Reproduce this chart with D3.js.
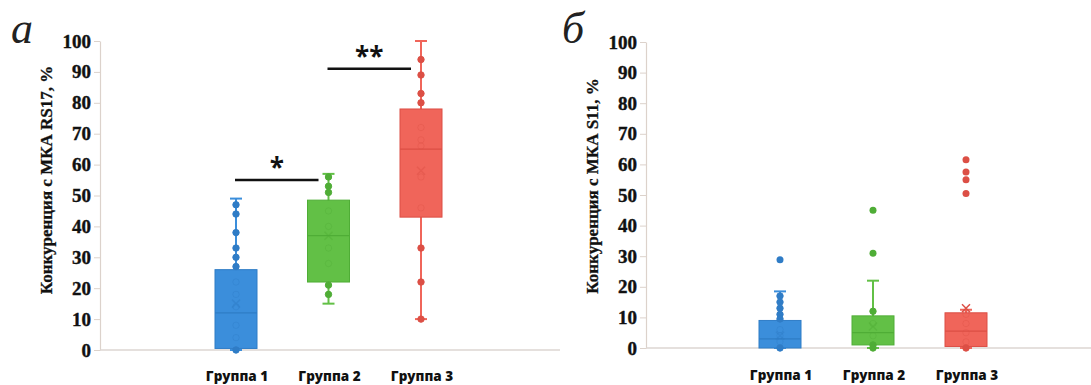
<!DOCTYPE html>
<html>
<head>
<meta charset="utf-8">
<script src="https://cdn.jsdelivr.net/npm/d3@7"></script>
<style>
  body { margin: 0; background: #fff; }
  svg { display: block; }
</style>
</head>
<body>
<script>
// группы и шкала
const groups = ["Группа 1", "Группа 2", "Группа 3"];
const yTicks = [0, 10, 20, 30, 40, 50, 60, 70, 80, 90, 100];

// [нижний ус, Q1, медиана, Q3, верхний ус, среднее]
const rs17Box = [
  [0, 0.5, 12, 26, 49, 15],
  [15, 22, 37, 48.5, 57, 37],
  [10, 43, 65, 78, 100, 58]
];
const rs17Points = [
  [47, 44, 38, 33, 30, 27, 22, 18, 14, 8, 4, 0],
  [56, 53, 51, 45, 40, 33, 28, 21, 18],
  [94, 89, 83, 80, 72, 68, 66, 56, 46, 33, 22, 10]
];
const rs17Outliers = [[], [], []];

const s11Box = [
  [0, 0, 3, 9, 18.5, 4],
  [0, 1, 5, 10.5, 22, 7],
  [0, 0.5, 5.5, 11.5, 12.5, 13]
];
const s11Points = [
  [17, 15, 13, 11, 9.5, 6, 4, 2, 0],
  [12, 8, 4, 1, 0],
  [11, 8, 5, 2, 0]
];
const s11Outliers = [[28.8], [45, 31], [61.5, 57.5, 55, 50.5]];

const colors = ["#3b8edb", "#62c046", "#f0655a"];
const darker = ["#2f7cc6", "#4fad36", "#dc4f45"];

const svg = d3.select("body").append("svg")
  .attr("width", 1091)
  .attr("height", 385);

const drawPanel = (p) => {
  const y = d3.scaleLinear().domain([0, 100]).range([p.yBottom, p.yTop]);
  const x = d3.scalePoint().domain(groups).range(p.centers);

  const g = svg.append("g");

  // ось Y
  const leftAxis = d3.axisLeft(y)
    .tickValues(yTicks)
    .tickSize(6)
    .tickSizeOuter(0)
    .tickPadding(3);

  const ax = g.append("g")
    .attr("transform", `translate(${p.axisX},0)`)
    .call(leftAxis);
  ax.select(".domain").attr("stroke", "#dcd2cb").attr("stroke-width", 1.2);
  ax.selectAll(".tick line").attr("stroke", "#dcd2cb");
  ax.selectAll(".tick text")
    .attr("font-family", "'Liberation Serif', 'Times New Roman', serif")
    .attr("font-weight", "bold")
    .attr("font-size", 19)
    .attr("fill", "#111")
    .attr("stroke", "#111")
    .attr("stroke-width", 0.4);

  // базовая линия
  g.append("line")
    .attr("x1", p.axisX).attr("x2", p.xEnd)
    .attr("y1", y(0)).attr("y2", y(0))
    .attr("stroke", "#dcd6d2").attr("stroke-width", 1.5);

  // подпись оси
  g.append("text")
    .attr("transform", `translate(${p.titleX},${p.titleY}) rotate(-90)`)
    .attr("text-anchor", "middle")
    .attr("font-family", "'Liberation Serif', 'Times New Roman', serif")
    .attr("font-weight", "bold")
    .attr("font-size", 17)
    .attr("fill", "#111")
    .attr("stroke", "#111")
    .attr("stroke-width", 0.3)
    .text(p.title);

  // буква панели
  g.append("text")
    .attr("x", p.letterX).attr("y", p.letterY)
    .attr("font-family", "'Liberation Serif', 'Times New Roman', serif")
    .attr("font-style", "italic")
    .attr("font-size", 44)
    .attr("fill", "#222")
    .text(p.letter);

  // подписи групп
  g.selectAll(".cat")
    .data(groups)
    .join("text")
    .attr("class", "cat")
    .attr("x", d => x(d) + 1)
    .attr("y", p.catY)
    .attr("text-anchor", "middle")
    .attr("font-family", "'Open Sans', sans-serif")
    .attr("font-weight", 800)
    .attr("font-size", 13.5)
    .attr("fill", "#111")
    .text(d => d);

  const boxW = 42, capW = 12;

  groups.forEach((grp, i) => {
    const [lo, q1, med, q3, hi, mean] = p.box[i];
    const cx = x(grp);
    const bg = g.append("g");

    // усы
    bg.append("line")
      .attr("x1", cx).attr("x2", cx)
      .attr("y1", y(lo)).attr("y2", y(hi))
      .attr("stroke", colors[i]).attr("stroke-width", 2);
    [lo, hi].forEach(v => {
      bg.append("line")
        .attr("x1", cx - capW / 2).attr("x2", cx + capW / 2)
        .attr("y1", y(v)).attr("y2", y(v))
        .attr("stroke", colors[i]).attr("stroke-width", 2);
    });

    // ящик
    bg.append("rect")
      .attr("x", cx - boxW / 2)
      .attr("y", y(q3))
      .attr("width", boxW)
      .attr("height", y(q1) - y(q3))
      .attr("fill", colors[i])
      .attr("stroke", darker[i])
      .attr("stroke-width", 1);

    bg.append("line")
      .attr("x1", cx - boxW / 2).attr("x2", cx + boxW / 2)
      .attr("y1", y(med)).attr("y2", y(med))
      .attr("stroke", darker[i]).attr("stroke-width", 1.2);

    // точки
    bg.selectAll("circle.pt")
      .data(p.points[i])
      .join("circle")
      .attr("class", "pt")
      .attr("cx", cx)
      .attr("cy", d => y(d))
      .attr("r", 3.2)
      .attr("fill", d => (d > q1 && d < q3) ? "none" : darker[i])
      .attr("stroke", darker[i])
      .attr("stroke-opacity", d => (d > q1 && d < q3) ? 0.35 : 1)
      .attr("stroke-width", 1);

    bg.selectAll("circle.out")
      .data(p.outliers[i])
      .join("circle")
      .attr("class", "out")
      .attr("cx", cx)
      .attr("cy", d => y(d))
      .attr("r", 3.5)
      .attr("fill", darker[i]);

    // среднее
    const m = y(mean), s = 4;
    bg.append("path")
      .attr("d", `M${cx - s},${m - s}L${cx + s},${m + s}M${cx - s},${m + s}L${cx + s},${m - s}`)
      .attr("stroke", darker[i])
      .attr("stroke-opacity", mean > q3 ? 1 : 0.45)
      .attr("stroke-width", 1.5);
  });

  // значимость
  p.sig.forEach(s => {
    const x1 = x(groups[s.from]) - 1, x2 = x(groups[s.to]) - 10;
    g.append("line")
      .attr("x1", x1).attr("x2", x2)
      .attr("y1", y(s.level)).attr("y2", y(s.level))
      .attr("stroke", "#111").attr("stroke-width", 2.5);
    g.append("text")
      .attr("x", (x1 + x2) / 2)
      .attr("y", y(s.level) - 3)
      .attr("text-anchor", "middle")
      .attr("font-family", "'Open Sans', sans-serif")
      .attr("font-weight", "bold")
      .attr("font-size", 26)
      .attr("fill", "#111")
      .text(s.mark);
  });
};

drawPanel({
  axisX: 100, xEnd: 560, yTop: 41, yBottom: 350,
  centers: [236, 421],
  box: rs17Box, points: rs17Points, outliers: rs17Outliers,
  title: "Конкуренция с МКА RS17, %", titleX: 52, titleY: 180,
  letter: "а", letterX: 11, letterY: 43,
  catY: 381,
  sig: [{from: 0, to: 1, level: 55, mark: "*"}, {from: 1, to: 2, level: 91, mark: "**"}]
});

drawPanel({
  axisX: 646, xEnd: 1091, yTop: 42, yBottom: 348,
  centers: [780, 966],
  box: s11Box, points: s11Points, outliers: s11Outliers,
  title: "Конкуренция с МКА S11, %", titleX: 598, titleY: 186,
  letter: "б", letterX: 562, letterY: 43,
  catY: 380,
  sig: []
});
</script>
</body>
</html>
